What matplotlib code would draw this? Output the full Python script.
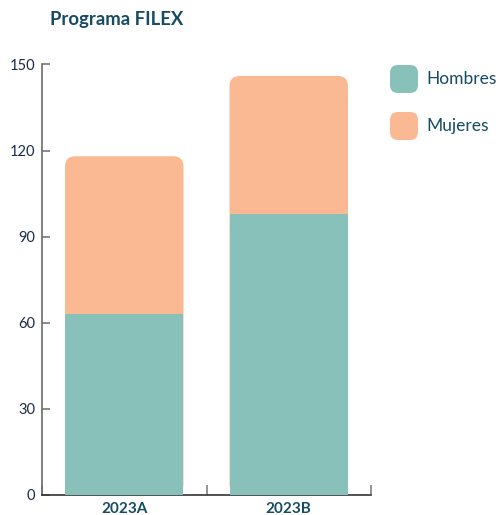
import matplotlib
matplotlib.use("Agg")
import matplotlib.pyplot as plt
from matplotlib.patches import FancyBboxPatch
from matplotlib.ticker import FixedLocator

plt.rcParams['font.family'] = ['Lato', 'DejaVu Sans']

categories = ["2023A", "2023B"]
hombres = [63, 98]
mujeres = [55, 48]
series_names = ["Hombres", "Mujeres"]
yticks = [0, 30, 60, 90, 120, 150]

c_h = "#88C1BA"
c_m = "#FAB893"
navy = "#164B63"
tick_col = "#1B2A47"

W, H = 500, 515
fig = plt.figure(figsize=(W / 100, H / 100), dpi=100)
ax = fig.add_axes([42 / W, (H - 494.7) / H, (371 - 42) / W, (494.7 - 64.5) / H])

x = list(range(len(categories)))
width = 0.72
ax.set_xlim(-0.5, len(categories) - 0.5)
ax.set_ylim(0, 150)

# pixel scale for rounding
ppx = (371 - 42) / (len(categories))      # px per x unit
ppy = (494.7 - 64.5) / 150                # px per y unit
r_px = 10
rx = r_px / ppx
aspect = (r_px / ppy) / rx

hb = ax.bar(x, hombres, width=width, color=c_h, zorder=3, linewidth=0)
mb = ax.bar(x, mujeres, width=width, bottom=hombres, color=c_m, zorder=2, linewidth=0)
for p in mb:
    p.set_visible(False)
    x0, w = p.get_x(), p.get_width()
    top = p.get_y() + p.get_height()
    fb = FancyBboxPatch((x0, 0), w, top,
                        boxstyle=f"round,pad=0,rounding_size={rx}",
                        mutation_aspect=aspect, facecolor=c_m, edgecolor="none", zorder=2)
    ax.add_patch(fb)

for s in ["top", "right"]:
    ax.spines[s].set_visible(False)
ax.spines["left"].set_color("#6B6B6B")
ax.spines["left"].set_linewidth(1.2)
ax.spines["bottom"].set_color("#333333")
ax.spines["bottom"].set_linewidth(1.2)

ax.set_yticks(yticks)
ax.tick_params(axis="y", direction="in", length=6, width=1.1, color="#6B6B6B",
               labelsize=10.5, labelcolor=tick_col, pad=5)
ax.set_xticks(x)
ax.set_xticklabels(categories, fontweight="bold", color=navy, fontsize=11)
ax.tick_params(axis="x", length=0, pad=5)
ax.xaxis.set_minor_locator(FixedLocator([-0.5 + i for i in range(len(categories) + 1)]))
ax.tick_params(axis="x", which="minor", direction="in", length=7, width=1.1, color="#777777")

fig.text(50 / W, 1 - 19 / H, "Programa FILEX", fontsize=13.3, fontweight="bold",
         color=navy, va="center", ha="left")

# legend
leg_y = [79, 126]
for name, col, yc in zip(series_names, [c_h, c_m], leg_y):
    s = 28
    p = FancyBboxPatch((390 / W, (H - yc - s / 2) / H), s / W, s / H,
                       boxstyle=f"round,pad=0,rounding_size={8 / W}",
                       mutation_aspect=W / H, transform=fig.transFigure,
                       facecolor=col, edgecolor="none")
    fig.add_artist(p)
    fig.text(426 / W, 1 - (yc) / H, name, fontsize=12.5, color=navy, va="center", ha="left")

fig.savefig("out.png", dpi=100)
